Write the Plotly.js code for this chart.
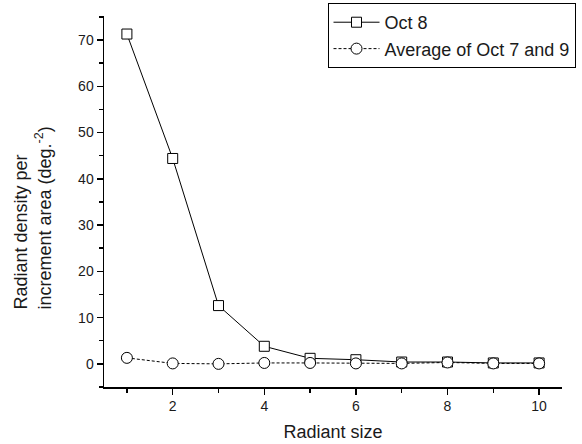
<!DOCTYPE html>
<html>
<head>
<meta charset="utf-8">
<script src="https://cdn.plot.ly/plotly-3.0.1.min.js"></script>
<style>
  html, body { margin: 0; padding: 0; background: #fff; overflow: hidden; }
  #chart { width: 582px; height: 444px; overflow: hidden; }
</style>
</head>
<body>
<div id="chart"></div>
<script>
// radiant size (x) and radiant density per increment area (deg^-2)
const radiantSize = [1, 2, 3, 4, 5, 6, 7, 8, 9, 10];
const oct8 = [71.3, 44.4, 12.6, 3.8, 1.2, 0.9, 0.4, 0.4, 0.2, 0.2];
const avgOct7and9 = [1.3, 0.1, 0.0, 0.2, 0.2, 0.1, 0.1, 0.3, 0.1, 0.1];

const FONT = "Arial, 'Liberation Sans', sans-serif";
const INK = "#000";
const TEXT = "#1a1a1a";

const traces = [
  {
    x: radiantSize,
    y: oct8,
    name: "Oct 8",
    type: "scatter",
    mode: "lines+markers",
    line: { color: INK, width: 1 },
    marker: { symbol: "square", size: 10, color: "#fff", line: { color: INK, width: 1 } },
  },
  {
    x: radiantSize,
    y: avgOct7and9,
    name: "Average of Oct 7 and 9",
    type: "scatter",
    mode: "lines+markers",
    line: { color: INK, width: 1, dash: "3px,2px" },
    marker: { symbol: "circle", size: 11, color: "#fff", line: { color: INK, width: 1 } },
  },
];

const axisBase = {
  showline: true,
  linecolor: INK,
  linewidth: 1.5,
  mirror: false,
  showgrid: false,
  zeroline: false,
  ticks: "outside",
  ticklen: 6,
  tickwidth: 1.5,
  tickcolor: INK,
  tickfont: { family: FONT, size: 14, color: TEXT },
};

// the source legend box runs past the right edge, so the figure is drawn a
// bit wider than the window and the overflow is cut off
const layout = {
  width: 620,
  height: 444,
  paper_bgcolor: "#fff",
  plot_bgcolor: "#fff",
  font: { family: FONT, color: INK },
  margin: { l: 104, r: 58, t: 16, b: 57, autoexpand: false },
  xaxis: {
    ...axisBase,
    range: [0.5, 10.5],
    tick0: 0,
    dtick: 2,
    minor: { dtick: 1, ticks: "outside", ticklen: 4, tickwidth: 1.5, tickcolor: INK },
    title: { text: "Radiant size", font: { family: FONT, size: 18, color: TEXT }, standoff: 12 },
  },
  yaxis: {
    ...axisBase,
    range: [-5, 75.2],
    tick0: 0,
    dtick: 10,
    minor: { dtick: 5, ticks: "outside", ticklen: 4, tickwidth: 1.5, tickcolor: INK },
  },
  // two-line y title, lines start together at the bottom as in the source
  annotations: [
    {
      text: "Radiant density per<br>increment area (deg.<sup>-2</sup>)",
      xref: "paper", yref: "paper",
      x: -0.155, y: 0.454,
      xanchor: "center", yanchor: "middle",
      textangle: -90,
      align: "left",
      showarrow: false,
      font: { family: FONT, size: 18, color: TEXT },
    },
  ],
  legend: {
    x: 0.488,
    y: 1.035,
    xanchor: "left",
    yanchor: "top",
    bgcolor: "#fff",
    bordercolor: INK,
    borderwidth: 1,
    font: { family: FONT, size: 18, color: TEXT },
    tracegroupgap: 0,
    itemwidth: 46,
  },
  showlegend: true,
};

Plotly.newPlot("chart", traces, layout, { displayModeBar: false, staticPlot: true });
</script>
</body>
</html>
